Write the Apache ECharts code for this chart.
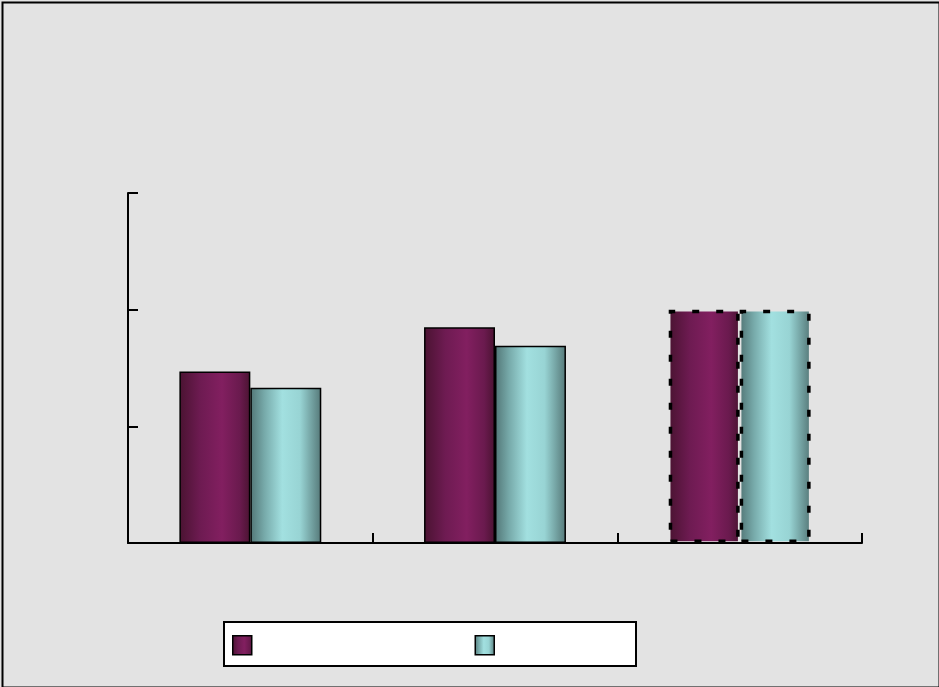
<!DOCTYPE html>
<html><head><meta charset="utf-8">
<script src="https://cdn.jsdelivr.net/npm/echarts@6/dist/echarts.min.js"></script>
<style>html,body{margin:0;padding:0;background:#e3e3e3}#c{width:939px;height:687px}</style>
</head><body><div id="c"></div>
<script>
const categories = ['g1', 'g2', 'g3'];
const seriesNames = ['A', 'B'];
const seriesA = [1.47, 1.85, 2.0];
const seriesB = [1.33, 1.69, 2.0];
const yMin = 0, yMax = 3, yInterval = 1;

const maroon = new echarts.graphic.LinearGradient(0,0,1,0,[
  {offset:0,color:'#4a1331'},{offset:0.3,color:'#6e1b52'},{offset:0.6,color:'#821f60'},{offset:0.85,color:'#6a1a4e'},{offset:1,color:'#4a1331'}]);
const teal = new echarts.graphic.LinearGradient(0,0,1,0,[
  {offset:0,color:'#527676'},{offset:0.2,color:'#77aaaa'},{offset:0.45,color:'#a2e0e0'},{offset:0.7,color:'#98d4d4'},{offset:1,color:'#557878'}]);

function mk(vals){
  return vals.map((v,i)=>({value:v, itemStyle: i===2 ? {borderType:[7,17], borderWidth:3.5} : {}}));
}
const chart = echarts.init(document.getElementById('c'));
chart.setOption({
  animation:false,
  backgroundColor:'#e3e3e3',
  grid:{left:128,right:77,top:193,bottom:144,containLabel:false},
  xAxis:{type:'category',data:categories,
    axisLine:{lineStyle:{color:'#000',width:2}},
    axisTick:{show:true,interval:0,inside:true,length:10,lineStyle:{color:'#000',width:2}},
    axisLabel:{show:false},splitLine:{show:false}},
  yAxis:{type:'value',min:yMin,max:yMax,interval:yInterval,
    axisLine:{show:true,lineStyle:{color:'#000',width:2}},
    axisTick:{show:true,inside:true,length:10,lineStyle:{color:'#000',width:2}},
    axisLabel:{show:false},splitLine:{show:false}},
  legend:{data:seriesNames,left:232,top:635,itemWidth:19,itemHeight:19,itemGap:222,
    icon:'rect',
    itemStyle:{borderColor:'#000',borderWidth:1.5},
    formatter:()=>'',
    textStyle:{fontSize:1},
    padding:0},
  graphic:[
    {type:'rect',z:-1,left:223,top:621,shape:{width:412,height:44},style:{fill:'#fff',stroke:'#000',lineWidth:2}},
    {type:'rect',z:-2,left:0,top:0,shape:{x:1,y:1,width:937,height:685},style:{fill:'none',stroke:'#000',lineWidth:2}}
  ],
  series:[
    {name:seriesNames[0],type:'bar',data:mk(seriesA),barGap:'0%',barCategoryGap:'42%',
      itemStyle:{color:maroon,borderColor:'#000',borderWidth:1.5}},
    {name:seriesNames[1],type:'bar',data:mk(seriesB),
      itemStyle:{color:teal,borderColor:'#000',borderWidth:1.5}}
  ]
});
</script></body></html>
